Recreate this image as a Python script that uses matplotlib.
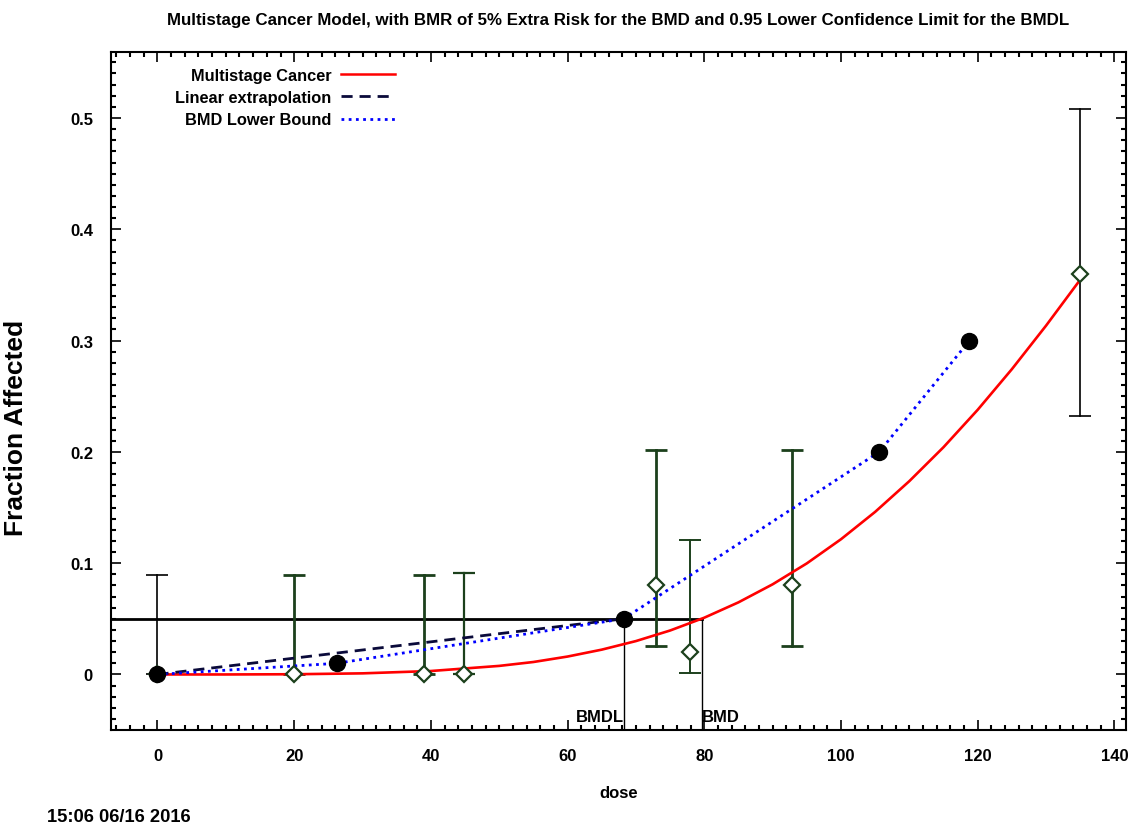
import matplotlib
matplotlib.use("Agg")
import matplotlib.pyplot as plt
from matplotlib.ticker import MultipleLocator, FixedLocator
from matplotlib.lines import Line2D

plt.rcParams['font.family'] = ['Liberation Sans', 'DejaVu Sans']
plt.rcParams['font.weight'] = 'bold'

# Observed data (diamonds) with confidence intervals
obs_dose = [0, 20, 39, 44.8, 72.9, 77.9, 92.9, 134.9]
obs_frac = [0.0, 0.0, 0.0, 0.0, 0.08, 0.02, 0.08, 0.36]
obs_lo = [0.0, 0.0, 0.0, 0.0, 0.0255, 0.0012, 0.0255, 0.2325]
obs_hi = [0.0890, 0.0890, 0.0890, 0.0910, 0.2016, 0.1205, 0.2016, 0.5080]
bar_colors = ['black', '#1c401c', '#1c401c', '#1c401c', '#1c401c', '#1c401c', '#1c401c', 'black']
bar_widths = [1.2, 2.0, 2.0, 1.6, 2.0, 1.4, 2.0, 1.2]

# Multistage cancer model curve
model_dose = [0, 10, 20, 30, 40, 50, 55, 60, 65, 70, 75, 80, 85, 90, 95,
              100, 105, 110, 115, 120, 125, 130, 135]
model_frac = [0.0, 0.0000, 0.0002, 0.0010, 0.0031, 0.0077, 0.0112, 0.0161, 0.0223,
              0.0300, 0.0395, 0.0510, 0.0648, 0.0810, 0.0998, 0.1215, 0.1461,
              0.1737, 0.2042, 0.2378, 0.2743, 0.3134, 0.3547]

# BMD lower bound points (filled circles)
lb_dose = [0, 26.2, 68.2, 105.6, 118.8]
lb_frac = [0.0, 0.01, 0.05, 0.20, 0.30]

# Linear extrapolation
lin_dose = [0, 68.2]
lin_frac = [0.0, 0.05]

BMR = 0.05
BMDL = 68.2
BMD = 79.6

xticks = [0, 20, 40, 60, 80, 100, 120, 140]
yticks = [0, 0.1, 0.2, 0.3, 0.4, 0.5]
ytick_labels = ['0', '0.1', '0.2', '0.3', '0.4', '0.5']

fig = plt.figure(figsize=(11.34, 8.28), dpi=100)
ax = fig.add_axes([111/1134, 1-731/828, (1126-111)/1134, (731-53)/828])
xmin, xmax = -6.8, 141.7
ymin, ymax = -0.0499, 0.5593
ax.set_xlim(xmin, xmax)
ax.set_ylim(ymin, ymax)

# BMR line and BMD/BMDL verticals
ax.plot([xmin, BMD], [BMR, BMR], color='black', lw=2.0, zorder=2)
ax.plot([BMDL, BMDL], [ymin, BMR], color='black', lw=1.0, zorder=2)
ax.plot([BMD, BMD], [ymin, BMR], color='black', lw=1.0, zorder=2)
ax.text(BMDL, -0.0375, 'BMDL', ha='right', va='center', fontsize=12)
ax.text(BMD, -0.0375, 'BMD', ha='left', va='center', fontsize=12)

# Error bars
for d, lo, hi, c, w in zip(obs_dose, obs_lo, obs_hi, bar_colors, bar_widths):
    ax.plot([d, d], [lo, hi], color=c, lw=w, zorder=3)
    ax.plot([d], [hi], marker='_', markersize=16, mew=w, color=c, zorder=3)
    ax.plot([d], [lo], marker='_', markersize=16, mew=w, color=c, zorder=3)

# Model curve
ax.plot(model_dose, model_frac, color='red', lw=1.9, zorder=4)
# Linear extrapolation
ax.plot(lin_dose, lin_frac, color='#0a0a3a', lw=2.0, ls=(0, (4, 2.5)), zorder=4)
# BMD lower bound
ax.plot(lb_dose, lb_frac, color='blue', lw=2.0, ls=(0, (1, 1.6)), zorder=4)

# Diamonds
ax.plot(obs_dose, obs_frac, ls='none', marker='D', markersize=8, mfc='white',
        mec='#1c401c', mew=1.6, zorder=5)
# Filled circles
ax.plot(lb_dose, lb_frac, ls='none', marker='o', markersize=11.5, color='black', zorder=6)

ax.xaxis.set_major_locator(FixedLocator(xticks))
ax.xaxis.set_minor_locator(MultipleLocator(2))
ax.yaxis.set_major_locator(FixedLocator(yticks))
ax.set_yticklabels(ytick_labels)
ax.yaxis.set_minor_locator(MultipleLocator(0.01))
ax.tick_params(which='both', direction='in', top=True, right=True, labelsize=12)
ax.tick_params(which='major', length=7, width=1.2, pad=13)
ax.tick_params(which='minor', length=3.5, width=1.5)
for s in ax.spines.values():
    s.set_linewidth(1.5)

ax.set_title('Multistage Cancer Model, with BMR of 5% Extra Risk for the BMD and 0.95 Lower Confidence Limit for the BMDL',
             fontsize=12.2, fontweight='bold', pad=20)
ax.set_xlabel('dose', fontsize=12, fontweight='bold', labelpad=16)
ax.set_ylabel('Fraction Affected', fontsize=19, fontweight='bold')
ax.yaxis.set_label_coords(28/1134, 1-428/828, transform=fig.transFigure)

handles = [Line2D([], [], color='red', lw=1.8),
           Line2D([], [], color='#0a0a3a', lw=2.0, ls=(0, (4, 2.5))),
           Line2D([], [], color='blue', lw=2.0, ls=(0, (1, 1.6)))]
labels = ['Multistage Cancer', 'Linear extrapolation', 'BMD Lower Bound']
fig.legend(handles, labels, loc='upper right', bbox_to_anchor=(402/1134, 1-62/828),
           frameon=False, markerfirst=False, prop={'size': 11.8, 'weight': 'bold'},
           handlelength=3.3, handletextpad=0.6, labelspacing=0.45, borderaxespad=0)

fig.text(47/1134, 1-818/828, '15:06 06/16 2016', fontsize=13.2, fontweight='bold',
         ha='left', va='center')

fig.savefig('out.png', dpi=100)
